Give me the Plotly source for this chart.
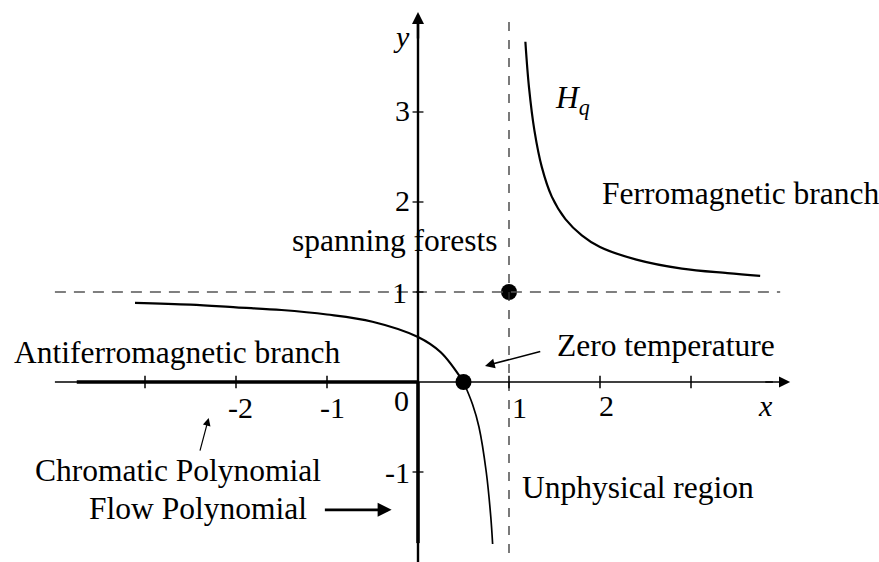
import plotly.graph_objects as go

# Hyperbola H_q: branch through the antiferromagnetic region, then down past y = 0
anti_x = [-3.11, -2.5, -2.0, -1.5, -1.0, -0.5, 0.0, 0.25, 0.5]
anti_y = [0.88, 0.86, 0.83, 0.80, 0.75, 0.67, 0.50, 0.33, 0.0]
unphys_x = [0.5, 0.6, 0.67, 0.75, 0.8, 0.82]
unphys_y = [0.0, -0.25, -0.5, -1.0, -1.5, -1.8]
# Ferromagnetic branch
ferro_x = [1.18, 1.22, 1.28, 1.36, 1.47, 1.62, 1.8, 2.0, 2.4, 2.9, 3.4, 3.76]
ferro_y = [3.78, 3.27, 2.79, 2.39, 2.06, 1.81, 1.63, 1.50, 1.36, 1.26, 1.21, 1.18]

# Special points: zero temperature and spanning forests
special_x = [0.5, 1.0]
special_y = [0.0, 1.0]

x_ticks = [-3, -2, -1, 1, 2, 3]
x_tick_labels = {-2: "-2", -1: "-1", 1: "1", 2: "2"}
y_ticks = [3, 2, 1, -1]
y_tick_labels = {3: "3", 2: "2", 1: "1", -1: "-1"}

FONT = "Liberation Serif"
FS_TICK = 30
FS = 31.5

fig = go.Figure()

# dashed asymptotes x = 1 and y = 1
fig.add_shape(type="line", x0=1, x1=1, y0=-2.1, y1=4.02,
              line=dict(color="#333", width=1.3, dash="9px,9px"))
fig.add_shape(type="line", x0=-3.99, x1=3.98, y0=1, y1=1,
              line=dict(color="#555", width=1.3, dash="11px,8px"))

# x axis (thin), chromatic polynomial segment (thick)
fig.add_shape(type="line", x0=-3.99, x1=3.9, y0=0, y1=0,
              line=dict(color="black", width=1.4))
fig.add_shape(type="line", x0=-3.75, x1=0, y0=0, y1=0,
              line=dict(color="black", width=3.5))
# y axis, flow polynomial segment (thick)
fig.add_shape(type="line", x0=0, x1=0, y0=-2.1, y1=4.0,
              line=dict(color="black", width=2.4))
fig.add_shape(type="line", x0=0, x1=0, y0=0, y1=-1.79,
              line=dict(color="black", width=3.5))

# axis arrowheads
fig.add_annotation(x=4.09, y=0, ax=3.8, ay=0, xref="x", yref="y", axref="x", ayref="y",
                   text="", showarrow=True, arrowhead=2, arrowsize=1.6, arrowwidth=1.4,
                   arrowcolor="black", standoff=0)
fig.add_annotation(x=0, y=4.11, ax=0, ay=3.8, xref="x", yref="y", axref="x", ayref="y",
                   text="", showarrow=True, arrowhead=2, arrowsize=1.0, arrowwidth=2.4,
                   arrowcolor="black", standoff=0)

# tick marks
for t in x_ticks:
    fig.add_shape(type="line", x0=t, x1=t, y0=-0.07, y1=0.07,
                  line=dict(color="black", width=1.5))
for t in y_ticks:
    fig.add_shape(type="line", x0=-0.06, x1=0.06, y0=t, y1=t,
                  line=dict(color="black", width=1.3))

# curves
fig.add_trace(go.Scatter(x=anti_x, y=anti_y, mode="lines", line_shape="spline",
                         line=dict(color="black", width=2.2), hoverinfo="skip"))
fig.add_trace(go.Scatter(x=unphys_x, y=unphys_y, mode="lines", line_shape="spline",
                         line=dict(color="black", width=1.7), hoverinfo="skip"))
fig.add_trace(go.Scatter(x=ferro_x, y=ferro_y, mode="lines", line_shape="spline",
                         line=dict(color="black", width=2.2), hoverinfo="skip"))
fig.add_trace(go.Scatter(x=special_x, y=special_y, mode="markers",
                         marker=dict(color="black", size=16), hoverinfo="skip"))

def label(x, y, text, xanchor="center", size=FS):
    fig.add_annotation(x=x, y=y, text=text, showarrow=False, xref="x", yref="y",
                       xanchor=xanchor, yanchor="middle",
                       font=dict(family=FONT, size=size, color="black"))

# tick labels
x_label_pos = {-2: (-1.95, -0.28), -1: (-0.945, -0.28), 1: (1.12, -0.28), 2: (2.07, -0.26)}
for t, s in x_tick_labels.items():
    px, py = x_label_pos[t]
    label(px, py, s, size=FS_TICK)
label(-0.176, -0.2, "0", size=FS_TICK)
label(3.82, -0.26, "<i>x</i>", size=FS_TICK)
y_label_pos = {3: (-0.165, 3.02), 2: (-0.165, 2.02), 1: (-0.2, 1.0), -1: (-0.23, -1.01)}
for t, s in y_tick_labels.items():
    px, py = y_label_pos[t]
    label(px, py, s, size=FS_TICK)
label(-0.18, 3.84, "<i>y</i>", size=FS_TICK)

# region labels
label(1.70, 3.13, "<i>H</i><sub><i>q</i></sub>")
label(2.0, 2.1, "Ferromagnetic branch", xanchor="left")
label(-1.41, 1.57, "spanning forests", xanchor="left")
label(-4.46, 0.333, "Antiferromagnetic branch", xanchor="left")
label(1.505, 0.41, "Zero temperature", xanchor="left")
label(-4.23, -0.98, "Chromatic Polynomial", xanchor="left")
label(-3.64, -1.40, "Flow Polynomial", xanchor="left")
label(1.12, -1.17, "Unphysical region", xanchor="left")

# pointer arrows
def pointer(x, y, ax, ay, width=1.5):
    fig.add_annotation(x=x, y=y, ax=ax, ay=ay, xref="x", yref="y", axref="x", ayref="y",
                       text="", showarrow=True, arrowhead=2, arrowsize=1.3 if width < 2 else 1.0,
                       arrowwidth=width, arrowcolor="black", standoff=0)

pointer(0.736, 0.178, 1.36, 0.344)
pointer(-2.30, -0.40, -2.40, -0.78, width=1.2)
pointer(-0.29, -1.42, -1.04, -1.42, width=2.8)

fig.update_layout(
    width=879, height=562,
    margin=dict(l=0, r=0, t=0, b=0),
    paper_bgcolor="white", plot_bgcolor="white",
    showlegend=False,
    xaxis=dict(range=[-418 / 91, 461 / 91], visible=False, fixedrange=True),
    yaxis=dict(range=[-180 / 90, 382 / 90], visible=False, fixedrange=True),
)

fig.write_html("out.html")
